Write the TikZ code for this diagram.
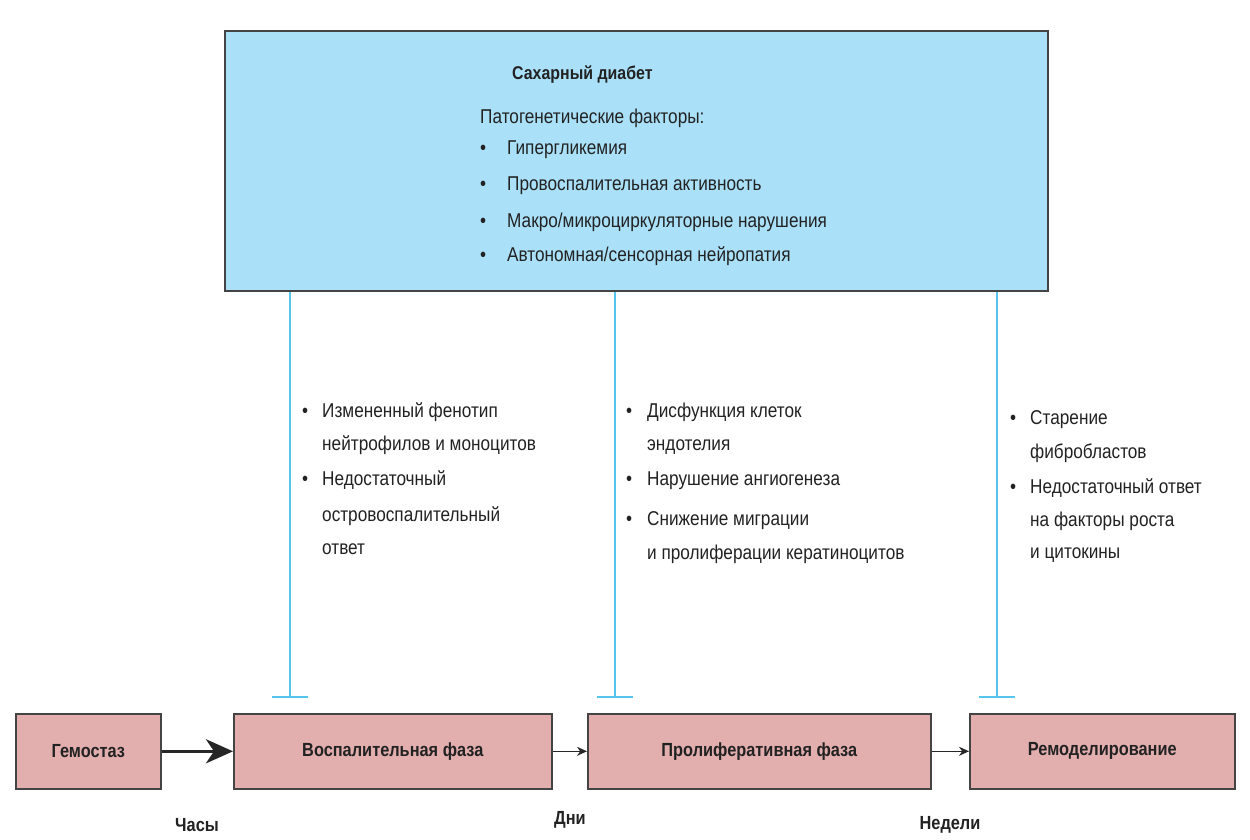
\documentclass[tikz,border=0pt]{standalone}
\usepackage{fontspec}
\setmainfont{Liberation Sans}[FakeStretch=0.86]
\usetikzlibrary{arrows.meta}
\definecolor{topfill}{HTML}{AAE1F9}
\definecolor{boxfill}{HTML}{E3AEAE}
\definecolor{cyanline}{HTML}{55C5EE}
\definecolor{edge}{HTML}{444444}
\definecolor{txt}{HTML}{222222}
\tikzset{
  phase/.style={draw=edge, line width=1.6pt, fill=boxfill, text=txt},
  tl/.style={anchor=base west, inner sep=0pt, font=\fontsize{20}{24}\selectfont, text=txt},
  bul/.style={anchor=base west, inner sep=0pt, font=\fontsize{20}{24}\selectfont, text=txt},
  inhib/.style={draw=cyanline, line width=1.4pt},
  lbl/.style={anchor=center, inner sep=0pt, font=\fontsize{19}{22}\selectfont\bfseries, text=txt},
}
\begin{document}
\begin{tikzpicture}[x=1pt,y=-1pt]
\useasboundingbox (0,0) rectangle (1250,839);
% top box
\node[draw=edge, line width=1.6pt, fill=topfill, minimum width=823pt, minimum height=260pt, anchor=north west, inner sep=0pt] (dm) at (224,30) {};
\node[tl, font=\fontsize{18.5}{22}\selectfont\bfseries] (t0) at (512,79) {Сахарный диабет};
\node[tl] (t1) at (480,123) {Патогенетические факторы:};
\node[bul] (b1) at (480,154) {•};\node[tl] (t2) at (507,154) {Гипергликемия};
\node[bul] (b2) at (480,190) {•};\node[tl] (t3) at (507,190) {Провоспалительная активность};
\node[bul] (b3) at (480,227) {•};\node[tl] (t4) at (507,227) {Макро/микроциркуляторные нарушения};
\node[bul] (b4) at (480,261) {•};\node[tl] (t5) at (507,261) {Автономная/сенсорная нейропатия};

% phase boxes
\node[phase, minimum width=145pt, minimum height=75pt, anchor=north west, inner sep=0pt] (hem) at (15,713) {};
\node[lbl] at (hem.center) {Гемостаз};
\node[phase, minimum width=318pt, minimum height=75pt, anchor=north west, inner sep=0pt] (inf) at (233,713) {};
\node[lbl] at (inf.center) {Воспалительная фаза};
\node[phase, minimum width=343pt, minimum height=75pt, anchor=north west, inner sep=0pt] (pro) at (587,713) {};
\node[lbl] at (pro.center) {Пролиферативная фаза};
\node[phase, minimum width=265pt, minimum height=75pt, anchor=north west, inner sep=0pt] (rem) at (969,713) {};
\node[lbl] at (rem.center) {Ремоделирование};

% arrows
\draw[line width=3.4pt, draw=black!85, -{Stealth[length=27pt,width=24pt,inset=8pt]}] (hem.east) -- (inf.west);
\draw[line width=1.4pt, draw=black!85, -{Stealth[length=10pt,width=9pt]}] (inf.east) -- (pro.west);
\draw[line width=1.4pt, draw=black!85, -{Stealth[length=10pt,width=9pt]}] (pro.east) -- (rem.west);

% time labels
\node[lbl] (h) at (197,825) {Часы};
\node[lbl] (d) at (570,820) {Дни};
\node[lbl] (w) at (950,825) {Недели};

% inhibition lines
\coordinate (e1) at (290,697); \coordinate (e2) at (615,697); \coordinate (e3) at (997,697);
\draw[inhib] (dm.south -| e1) -- (e1); \draw[inhib] ([xshift=-18pt]e1) -- ([xshift=18pt]e1);
\draw[inhib] (dm.south -| e2) -- (e2); \draw[inhib] ([xshift=-18pt]e2) -- ([xshift=18pt]e2);
\draw[inhib] (dm.south -| e3) -- (e3); \draw[inhib] ([xshift=-18pt]e3) -- ([xshift=18pt]e3);

% column 1
\node[bul] (c1b1) at (302,417) {•};\node[tl] (c1a) at (322,417) {Измененный фенотип};
\node[tl] (c1b) at (322,450) {нейтрофилов и моноцитов};
\node[bul] (c1b2) at (302,485) {•};\node[tl] (c1c) at (322,485) {Недостаточный};
\node[tl] (c1d) at (322,521) {островоспалительный};
\node[tl] (c1e) at (322,554) {ответ};
% column 2
\node[bul] (c2b1) at (626,417) {•};\node[tl] (c2a) at (647,417) {Дисфункция клеток};
\node[tl] (c2b) at (647,450) {эндотелия};
\node[bul] (c2b2) at (626,485) {•};\node[tl] (c2c) at (647,485) {Нарушение ангиогенеза};
\node[bul] (c2b3) at (626,525) {•};\node[tl] (c2d) at (647,525) {Снижение миграции};
\node[tl] (c2e) at (647,559) {и пролиферации кератиноцитов};
% column 3
\node[bul] (c3b1) at (1010,424) {•};\node[tl] (c3a) at (1030,424) {Старение};
\node[tl] (c3b) at (1030,458) {фибробластов};
\node[bul] (c3b2) at (1010,493) {•};\node[tl] (c3c) at (1030,493) {Недостаточный ответ};
\node[tl] (c3d) at (1030,526) {на факторы роста};
\node[tl] (c3e) at (1030,558) {и цитокины};
\end{tikzpicture}
\end{document}
